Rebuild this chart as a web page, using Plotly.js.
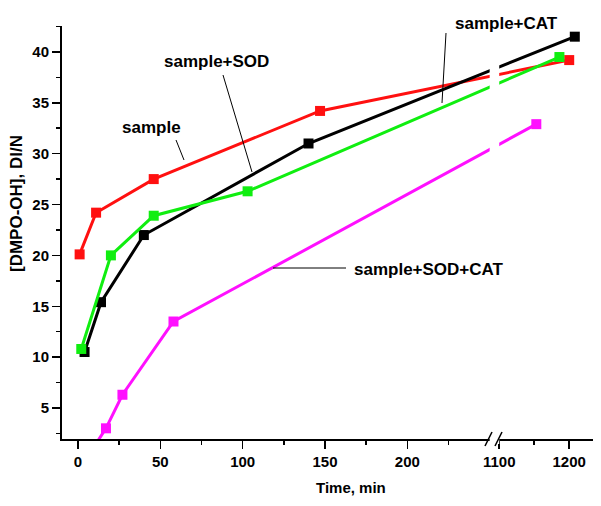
<!DOCTYPE html>
<html>
<head>
<meta charset="utf-8">
<script src="https://cdn.plot.ly/plotly-3.0.1.min.js"></script>
<style>html,body{margin:0;padding:0;background:#fff;}#chart{width:601px;height:506px;}</style>
</head>
<body>
<div id="chart"></div>
<script>
// ---- data (time in min, [DMPO-OH] in DI/N) ----
const sampleTime = [1, 11, 46, 147, 1200];
const sampleVal  = [20.1, 24.2, 27.5, 34.2, 39.2];
const sodTime    = [4, 14, 40, 140, 1208];
const sodVal     = [10.5, 15.4, 22.0, 31.0, 41.5];
const catTime    = [2, 20, 46, 103, 1186];
const catVal     = [10.8, 20.0, 23.9, 26.3, 39.5];
const sodCatTime = [5, 17, 27, 58, 1153];
const sodCatVal  = [0, 3.0, 6.3, 13.5, 32.9];

const seriesNames = ['sample', 'sample+SOD', 'sample+CAT', 'sample+SOD+CAT'];
const majorTicks = [0, 50, 100, 150, 200, 1100, 1200];
const minorTicks = [25, 75, 125, 175, 225, 1150];

// ---- broken x axis: 0..250 | 1100..1234 (compressed) ----
const SEG1_MAX = 250, SEG2_START = 1100, SEG2_POS = 255.8, SEG2_SCALE = 0.425;
function tx(x) { return x <= SEG1_MAX ? x : SEG2_POS + (x - SEG2_START) * SEG2_SCALE; }

const W = 601, H = 506, L = 62, R = 8, T = 26, B = 67;
const PW = W - L - R, PH = H - T - B;
const px = x => (x - L) / PW;
const py = y => (H - B - y) / PH;

const colors = ['#ff1010', '#000000', '#10ee10', '#ff10ff'];
const times = [sampleTime, sodTime, catTime, sodCatTime];
const vals = [sampleVal, sodVal, catVal, sodCatVal];

const traces = times.map((t, i) => ({
  type: 'scatter', mode: 'lines+markers', name: seriesNames[i],
  x: t.map(tx), y: vals[i],
  line: {color: colors[i], width: 3},
  marker: {symbol: 'square', size: 10, color: colors[i]},
  showlegend: false
}));

const font = 'Liberation Sans, Arial, sans-serif';
const tickFont = {family: font, size: 15, color: '#000', weight: 'bold'};
const lblFont = {family: font, size: 17, color: '#000', weight: 'bold'};

function label(text, cx, cy) {
  return {text: text, xref: 'paper', yref: 'paper', x: px(cx), y: py(cy),
    xanchor: 'center', yanchor: 'middle', showarrow: false, font: lblFont};
}
function pline(x0, y0, x1, y1, w) {
  return {type: 'line', xref: 'paper', yref: 'paper', x0: px(x0), y0: py(y0), x1: px(x1), y1: py(y1),
    line: {color: '#000', width: w || 1}, layer: 'above'};
}

const layout = {
  width: W, height: H,
  margin: {l: L, r: R, t: T, b: B},
  paper_bgcolor: '#fff', plot_bgcolor: '#fff',
  xaxis: {
    range: [-9.7, tx(1234)],
    tickmode: 'array', tickvals: majorTicks.map(tx), ticktext: majorTicks.map(String),
    ticks: 'outside', ticklen: 8, tickwidth: 1.5, tickcolor: '#000',
    minor: {tickmode: 'array', tickvals: minorTicks.map(tx), ticks: 'outside', ticklen: 4, tickwidth: 1.5, tickcolor: '#000'},
    showline: true, linewidth: 2, linecolor: '#000', showgrid: false, zeroline: false,
    tickfont: tickFont
  },
  yaxis: {
    range: [1.95, 42.55],
    tickmode: 'linear', tick0: 0, dtick: 5,
    ticks: 'outside', ticklen: 8, tickwidth: 1.5, tickcolor: '#000',
    minor: {dtick: 2.5, tick0: 0, ticks: 'outside', ticklen: 4, tickwidth: 1.5, tickcolor: '#000'},
    showline: true, linewidth: 2, linecolor: '#000', showgrid: false, zeroline: false,
    tickfont: tickFont
  },
  shapes: [
    // axis break gap
    {type: 'rect', xref: 'x', yref: 'paper', x0: SEG1_MAX, x1: SEG2_POS, y0: -0.012, y1: 1,
     fillcolor: '#fff', line: {width: 0}, layer: 'above'},
    pline(485, 446, 492, 432, 1.5),
    pline(495, 446, 502, 432, 1.5),
    // pointer lines
    pline(176, 140, 184, 160),
    pline(223, 75, 252, 172),
    pline(446, 33, 442, 103),
    pline(273, 268, 346, 268)
  ],
  annotations: [
    label(seriesNames[0], 151, 127),
    label(seriesNames[1], 216, 61),
    label(seriesNames[2], 506, 24),
    label(seriesNames[3], 429, 269),
    {text: 'Time, min', xref: 'paper', yref: 'paper', x: px(351), y: py(488),
     xanchor: 'center', yanchor: 'middle', showarrow: false,
     font: {family: font, size: 15, color: '#000', weight: 'bold'}},
    {text: '[DMPO-OH], DI/N', xref: 'paper', yref: 'paper', x: px(17), y: py(204),
     xanchor: 'center', yanchor: 'middle', showarrow: false, textangle: -90,
     font: {family: font, size: 17, color: '#000', weight: 'bold'}}
  ]
};

Plotly.newPlot('chart', traces, layout, {staticPlot: true, displayModeBar: false});
</script>
</body>
</html>
